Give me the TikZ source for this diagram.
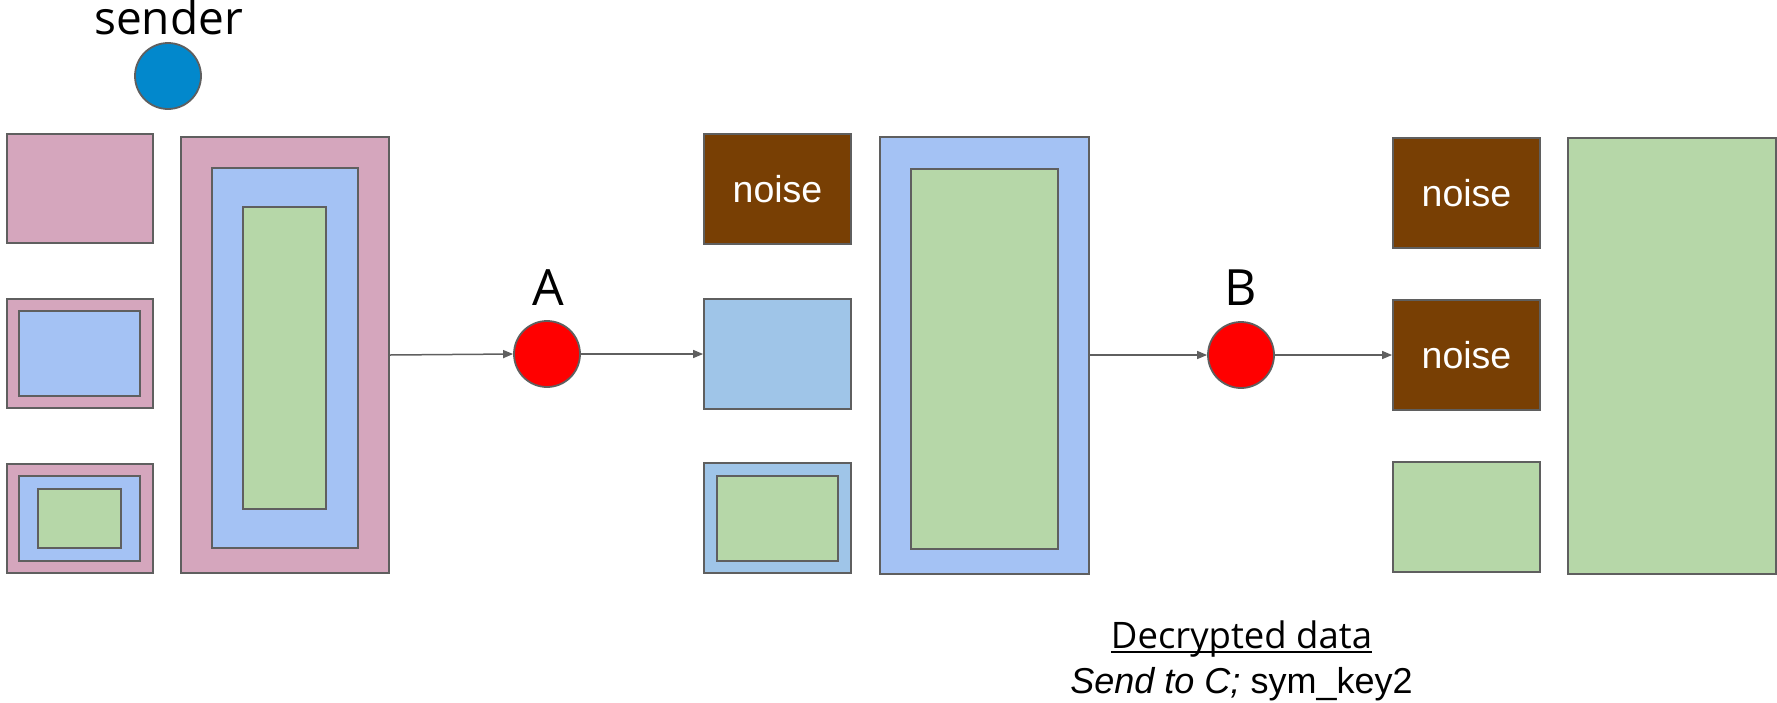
\documentclass[tikz,border=0pt]{standalone}
\usepackage{fontspec}
\setmainfont{Open Sans}
\newfontfamily\arialf{Liberation Sans}
\usetikzlibrary{arrows.meta}
\definecolor{lc}{HTML}{5F5F5F}
\definecolor{cpink}{HTML}{D5A6BD}
\definecolor{cblue}{HTML}{A4C2F4}
\definecolor{clblue}{HTML}{9FC5E8}
\definecolor{cgreen}{HTML}{B6D7A8}
\definecolor{cbrown}{HTML}{783F04}
\definecolor{csend}{HTML}{0288CC}
\newcommand\myul[1]{\setbox0\hbox{#1}\rlap{\rule[-5pt]{\wd0}{1.8pt}}\box0}
\tikzset{
  bx/.style={draw=lc, line width=1.8pt, rectangle, inner sep=0pt},
  dot/.style={draw=lc, line width=1.8pt, circle, inner sep=0pt, minimum size=66pt},
  conn/.style={draw=lc, line width=1.5pt, -{Triangle[length=10pt,width=8pt]}},
  noisetxt/.style={text=white, font=\arialf\fontsize{37.5}{40}\selectfont},
  lbl/.style={font=\fontsize{46}{50}\selectfont, anchor=base, inner sep=0pt}
}
\begin{document}
\begin{tikzpicture}[x=1pt,y=-1pt]
\useasboundingbox (0,0) rectangle (1777,702);
% sender
\node[dot, fill=csend] (snd) at (168,76) {};
\node[lbl] (sndl) at (168.5,34) {sender};
% left column
\node[bx, fill=cpink, minimum width=146pt, minimum height=109pt] (p1) at (80,188.5) {};
\node[bx, fill=cpink, minimum width=146pt, minimum height=109pt] (p2) at (80,353.5) {};
\node[bx, fill=cblue, minimum width=121pt, minimum height=85pt] (p2b) at (79.5,353.5) {};
\node[bx, fill=cpink, minimum width=146pt, minimum height=109pt] (p3) at (80,518.5) {};
\node[bx, fill=cblue, minimum width=121pt, minimum height=85pt] (p3b) at (79.5,518.5) {};
\node[bx, fill=cgreen, minimum width=83pt, minimum height=59pt] (p3g) at (79.5,518.5) {};
% big pink
\node[bx, fill=cpink, minimum width=208pt, minimum height=436pt] (P) at (285,355) {};
\node[bx, fill=cblue, minimum width=146pt, minimum height=380pt] (Pb) at (285,358) {};
\node[bx, fill=cgreen, minimum width=83pt, minimum height=302pt] (Pg) at (284.5,358) {};
% circle A
\node[dot, fill=red] (A) at (547,354) {};
\node[lbl, font=\fontsize{50}{54}\selectfont] (Al) at (548,305) {A};
% middle column
\node[bx, fill=cbrown, minimum width=147pt, minimum height=110pt, noisetxt] (n1) at (777.5,189) {noise};
\node[bx, fill=clblue, minimum width=147pt, minimum height=110pt] (m2) at (777.5,354) {};
\node[bx, fill=clblue, minimum width=147pt, minimum height=110pt] (m3) at (777.5,518) {};
\node[bx, fill=cgreen, minimum width=121pt, minimum height=85pt] (m3g) at (777.5,518.5) {};
% big blue
\node[bx, fill=cblue, minimum width=209pt, minimum height=437pt] (Q) at (984.5,355.5) {};
\node[bx, fill=cgreen, minimum width=147pt, minimum height=380pt] (Qg) at (984.5,359) {};
% circle B
\node[dot, fill=red] (B) at (1241,355) {};
\node[lbl, font=\fontsize{50}{54}\selectfont] (Bl) at (1241,305) {B};
% right column
\node[bx, fill=cbrown, minimum width=147pt, minimum height=110pt, noisetxt] (n2) at (1466.5,193) {noise};
\node[bx, fill=cbrown, minimum width=147pt, minimum height=110pt, noisetxt] (n3) at (1466.5,355) {noise};
\node[bx, fill=cgreen, minimum width=147pt, minimum height=110pt] (r3) at (1466.5,517) {};
\node[bx, fill=cgreen, minimum width=208pt, minimum height=436pt] (R) at (1672,356) {};
% connectors
\draw[conn] (P.east |- 0,355) -- (A.west);
\draw[conn] (A.east) -- (m2.west |- A.east);
\draw[conn] (Q.east |- 0,355) -- (B.west);
\draw[conn] (B.east) -- (n3.west);
% caption
\node[anchor=base, inner sep=0pt, font=\fontsize{36.5}{40}\selectfont] (cap1) at (1241.5,648) {\myul{Decrypted data}};
\node[anchor=base, inner sep=0pt, font=\arialf\fontsize{36}{40}\selectfont] (cap2) at (1241.5,693) {\textit{Send to C;} sym\_key2};
\end{tikzpicture}
\end{document}
